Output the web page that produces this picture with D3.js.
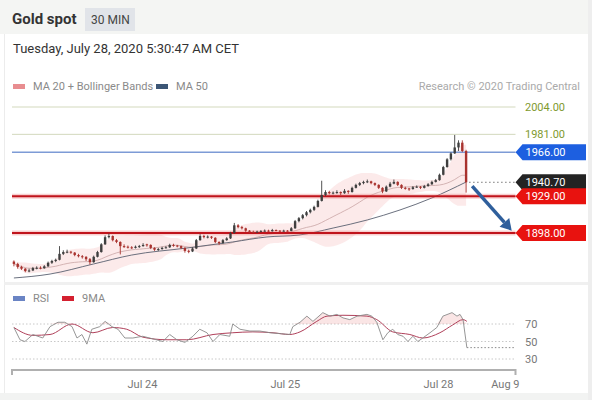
<!DOCTYPE html>
<html><head><meta charset="utf-8">
<script src="https://cdn.jsdelivr.net/npm/d3@7"></script>
<style>body{margin:0;background:#fff}svg{display:block;font-family:Roboto,"Liberation Sans",sans-serif}</style>
</head><body><svg id="c" width="592" height="400"></svg>
<script>
// ---------- DATA ----------
// 30-min candles [open, high, low, close]
const candles = [
[1874,1875,1870,1872],[1872,1873,1868,1869.5],[1869.5,1870.5,1867,1868],[1868,1868.5,1865,1866],[1866,1868,1865,1866.5],
[1866.5,1869.5,1866,1868.5],[1868.5,1870,1867.5,1868.8],[1868.8,1870,1867.5,1868.4],[1868.4,1871,1868,1870],[1870,1874,1869.5,1873],
[1873,1875.5,1872,1874.5],[1874.5,1876.5,1873.5,1875.5],[1875.5,1887,1875,1880.5],[1880.5,1883.5,1879.5,1882],[1882,1884,1881,1882.3],
[1882.3,1883,1880.5,1881.5],[1881.5,1882,1878.5,1879.5],[1879.5,1880.5,1877.5,1878.5],[1878.5,1879.5,1876.5,1878],[1878,1878.5,1874.5,1876],
[1876,1877,1871.5,1873.5],[1873.5,1879,1873,1878],[1878,1883,1877.5,1882],[1882,1889.5,1881.5,1888.5],[1888.5,1896,1888,1894.5],
[1894.5,1897.5,1893.5,1895.5],[1895.5,1896,1891,1892],[1892,1893,1889.5,1890.5],[1890.5,1891,1880,1887],[1887,1888.5,1885.5,1886.5],
[1886.5,1887.5,1885,1886],[1886,1887,1884.5,1885.5],[1885.5,1887.5,1885,1886.5],[1886.5,1888,1885.5,1887],[1887,1889.5,1886.5,1888],
[1888.5,1889,1886.5,1888],[1888,1888.5,1884.5,1885.5],[1885.5,1886,1883,1884],[1884,1885.5,1883,1884.5],[1884.5,1886.5,1884,1885.5],
[1885.5,1887,1885,1886],[1886,1889,1885.5,1888],[1888,1889,1886.5,1887.5],[1887.5,1888,1886,1887],[1887,1887.5,1884.5,1885.5],
[1885.5,1886,1881.5,1883],[1883,1884,1881,1882.5],[1882.5,1886,1882,1885],[1885,1893,1884.5,1892],[1892,1897,1891.5,1895.5],
[1895.5,1896.5,1893.5,1894.5],[1894.5,1896,1893.5,1895],[1895,1895.5,1893,1894],[1894,1894.5,1889.5,1890.5],[1890.5,1891,1888,1889.5],
[1889.5,1893,1889,1892],[1892,1894.5,1891.5,1893.5],[1893.5,1899,1893,1898],[1898,1906.5,1897.5,1904.5],[1904.5,1905.5,1902,1903],
[1903,1904,1901,1902],[1902,1902.5,1899,1900],[1900,1900.5,1898,1899],[1899,1900,1898,1898.8],[1898.8,1900,1898.2,1899.2],
[1899.2,1900.5,1898.8,1899.6],[1899.6,1901,1899.2,1900],[1900,1900.8,1899,1899.5],[1899.5,1901.5,1899.2,1900.5],[1900.5,1901,1899.5,1900],
[1900,1900.5,1899,1899.6],[1899.6,1900.8,1899.2,1900],[1900,1900.5,1899.2,1899.8],[1899.8,1903,1899.5,1902],[1902,1909,1901.5,1908],
[1908,1911.5,1907,1910.5],[1910.5,1914,1909.5,1913],[1913,1916.5,1912,1915.5],[1915.5,1918.5,1914.5,1917.5],[1917.5,1921,1916.5,1920],
[1920,1926,1919.5,1925],[1925,1942,1924.5,1930],[1930,1934,1929,1932.5],[1932.5,1933.5,1930.5,1931.5],[1931.5,1933,1930.5,1932],
[1932,1934,1931,1932.5],[1932.5,1933,1930,1931.5],[1931.5,1935,1931,1933.5],[1933.5,1934,1931,1932.5],[1932.5,1937,1932,1936],
[1936,1939.5,1935.5,1938.5],[1938.5,1941,1937.5,1940],[1940,1942,1939,1941],[1941,1943,1940,1941.5],[1941.5,1942,1939,1940],
[1940,1940.5,1937.5,1938.5],[1938.5,1939,1935,1936],[1936,1936.5,1931.5,1933],[1933,1938,1932.5,1937],[1937,1941,1936.5,1939.5],
[1939.5,1943,1939,1941],[1941,1941.5,1937.5,1938.5],[1938.5,1939,1935,1936],[1936,1937,1934.5,1935.5],[1935.5,1936,1933.5,1935],
[1935,1937.5,1934.5,1936.5],[1936.5,1938,1936,1937],[1937,1937.5,1935,1936],[1936,1938.5,1935.5,1937.5],[1937.5,1940,1937,1939],
[1939,1942,1938.5,1941],[1941,1943.5,1940.5,1942.5],[1942.5,1948,1942,1947],[1947,1954.5,1946.5,1953.5],[1953.5,1961,1953,1960],
[1960,1966,1959,1965],[1965,1980.5,1964.5,1970],[1970,1976,1967,1974],[1974,1976,1966,1967],[1967,1968,1932,1940.7]
];
// MA 50 read at [candle index, price]
const ma50 = [[0,1860.2],[9.5,1863.5],[21,1872],[31,1879.5],[45.5,1885.4],[57.6,1890.5],[66.6,1894.7],[75,1896.3],[84,1902.2],[93,1909],[101.6,1917.4],[110,1927.5],[119,1940.9]];
// RSI and its 9-period MA, read at [candle index, value]
const rsi = [[0,66],[1.6,52],[2.9,50],[5,58],[7.6,54],[9.5,67],[11.6,72],[13.4,72],[15.3,67],[16.6,54],[17.9,58],[19.2,47],[20.5,64],[22.6,67],[24,73],[25.8,67],[27.4,64],[29.2,54],[31.3,54],[33.9,56],[36.6,53],[39.2,50],[41,58],[42.9,52],[45,49],[47.1,56],[48.9,64],[50.8,60],[52.4,50],[54.2,58],[56.8,56],[57.6,70],[59.5,64],[62.1,62],[64.7,62],[67.4,60],[70,59],[72.6,58],[73.4,67],[75.3,72],[77.1,79],[78.7,73],[81.3,83],[83.2,79],[85,81],[86.6,77],[88.4,75],[90.3,79],[92.9,81],[94.2,79],[95.5,72],[97.1,52],[98.4,60],[99.7,64],[101,58],[102.4,56],[103.7,50],[105,56],[106.3,50],[107.6,54],[109.5,60],[111.3,66],[112.9,79],[115.3,83],[116.6,79],[117.4,81],[118.2,75],[119.2,43]];
const rsiMA = [[0,66],[5,57],[9.5,58],[15.3,70],[20.8,60],[26,66],[29.7,64],[33.9,55],[40.3,52],[45.5,52],[52.4,58],[57.6,60],[62.9,61],[68.2,60],[72.6,58],[75.3,61],[79.7,73],[82.4,79],[86.6,80],[92.9,79],[95.5,75],[99.7,61],[104.2,58],[107.6,54],[112.1,60],[115.5,69],[118.2,75],[119.2,73]];
const rsiLevels = [70, 50, 30];
// price levels
const levels = [
  {v:2004, label:"2004.00", kind:"target"},
  {v:1981, label:"1981.00", kind:"target"},
  {v:1966, label:"1966.00", kind:"resist"},
  {v:1940.70, label:"1940.70", kind:"last"},
  {v:1929, label:"1929.00", kind:"support"},
  {v:1898, label:"1898.00", kind:"support"}
];
const tickPos = [33.7, 71.3, 111.6, 129.2];
const tickLabels = ["Jul 24", "Jul 25", "Jul 28", "Aug 9"];
// forecast arrow: [index, price] from -> to
const arrowPts = [[120.6,1937.5],[131,1900]];

// ---------- DRAW ----------
const svg = d3.select("#c");
const x = d3.scaleLinear().domain([-0.5,132]).range([12,515.5]);
const y = d3.scaleLinear().domain([1858.5,2014.1]).range([280,95]);
const yr = d3.scaleLinear().domain([30,70]).range([359,324]);

// frame / header
svg.append("rect").attr("x",0).attr("y",0).attr("width",592).attr("height",400).attr("fill","#fff");
svg.append("rect").attr("x",0).attr("y",0).attr("width",592).attr("height",34).attr("fill","#f4f5f3");
svg.append("rect").attr("x",0).attr("y",393).attr("width",592).attr("height",7).attr("fill","#f2f3f2");
svg.append("rect").attr("x",588).attr("y",0).attr("width",4).attr("height",400).attr("fill","#eeeeee");
svg.append("line").attr("x1",4.5).attr("x2",4.5).attr("y1",34).attr("y2",393).attr("stroke","#ececec");
svg.append("rect").attr("x",4).attr("y",282).attr("width",584).attr("height",3).attr("fill","#f0f0f0");

svg.append("text").attr("x",12).attr("y",24).attr("font-size",15).attr("font-weight","bold").attr("fill","#333").text("Gold spot");
svg.append("rect").attr("x",85).attr("y",8).attr("width",50).attr("height",23).attr("fill","#e1e4e9");
svg.append("text").attr("x",91).attr("y",24).attr("font-size",12).attr("fill","#444").text("30 MIN");
svg.append("text").attr("x",13).attr("y",53).attr("font-size",13).attr("fill","#333").text("Tuesday, July 28, 2020 5:30:47 AM CET");

// legends
function legend(xp, yp, color, label){
  svg.append("rect").attr("x",xp).attr("y",yp-3).attr("width",12).attr("height",5).attr("fill",color);
  svg.append("text").attr("x",xp+20).attr("y",yp+3).attr("font-size",11).attr("fill","#8a8a8a").text(label);
}
legend(13,87,"#e88d90","MA 20 + Bollinger Bands");
legend(156,87,"#3c5676","MA 50");
svg.append("text").attr("x",580).attr("y",90).attr("text-anchor","end").attr("font-size",11).attr("fill","#aaa").text("Research \u00A9 2020 Trading Central");
legend(13,299,"#6a84c4","RSI");
legend(62,299,"#d42030","9MA");

// Bollinger bands & MA20 computed from closes
const closes = candles.map(d=>d[3]);
const bb = closes.map((c,i)=>{
  const w = closes.slice(Math.max(0,i-19), i+1);
  const m = d3.mean(w); const sd = w.length>1 ? d3.deviation(w)*Math.sqrt((w.length-1)/w.length) : 0;
  return {i, m, up:m+2*sd, lo:m-2*sd};
});
svg.append("path").datum(bb).attr("fill","rgba(240,140,140,0.18)")
  .attr("d", d3.area().x(d=>x(d.i)).y0(d=>y(d.lo)).y1(d=>y(d.up)).curve(d3.curveMonotoneX));
svg.append("path").datum(bb).attr("fill","none").attr("stroke","#c9a5a5").attr("stroke-width",0.8)
  .attr("d", d3.line().x(d=>x(d.i)).y(d=>y(d.m)).curve(d3.curveMonotoneX));
svg.append("path").datum(ma50).attr("fill","none").attr("stroke","#5a6170").attr("stroke-width",0.9)
  .attr("d", d3.line().x(d=>x(d[0])).y(d=>y(d[1])).curve(d3.curveMonotoneX));

// level lines
const x0 = x(-0.5), x1 = x(132);
levels.forEach(L=>{
  const yy = y(L.v);
  if (L.kind==="target"){
    svg.append("line").attr("x1",x0).attr("x2",x1).attr("y1",yy).attr("y2",yy).attr("stroke","#d3d9bd").attr("stroke-width",1);
    svg.append("text").attr("x",525).attr("y",yy+4).attr("font-size",11).attr("fill","#7f9a2f").text(L.label);
  } else {
    let col, bg;
    if (L.kind==="resist"){ col="#7d9bd6"; bg="#1d5fe0";
      svg.append("line").attr("x1",x0).attr("x2",x1).attr("y1",yy).attr("y2",yy).attr("stroke",col).attr("stroke-width",1.6);
    } else if (L.kind==="support"){ col="#c0141c"; bg="#e8120f";
      svg.append("line").attr("x1",x0).attr("x2",x1).attr("y1",yy).attr("y2",yy).attr("stroke","rgba(235,120,120,0.35)").attr("stroke-width",5);
      svg.append("line").attr("x1",x0).attr("x2",x1).attr("y1",yy).attr("y2",yy).attr("stroke",col).attr("stroke-width",2);
    } else { bg="#232323";
      svg.append("line").attr("x1",x(119)+3).attr("x2",x1).attr("y1",yy).attr("y2",yy).attr("stroke","#777").attr("stroke-width",1).attr("stroke-dasharray","1.5,2.5");
    }
    const bx = x1;
    svg.append("path").attr("fill",bg)
      .attr("d",`M${bx},${yy} L${bx+7},${yy-8} L${586},${yy-8} L${586},${yy+8} L${bx+7},${yy+8} Z`);
    svg.append("text").attr("x",bx+10).attr("y",yy+4).attr("font-size",11).attr("fill","#fff").text(L.label);
  }
});

// candles
const cg = svg.append("g");
candles.forEach((d,i)=>{
  const [o,h,l,c] = d; const up = c>=o;
  const col = up ? "#3f3f3f" : "#a8322e";
  const cx = x(i);
  cg.append("line").attr("x1",cx).attr("x2",cx).attr("y1",y(h)).attr("y2",y(l)).attr("stroke",col).attr("stroke-width",0.9);
  const top = y(Math.max(o,c)), bot = y(Math.min(o,c));
  cg.append("rect").attr("x",cx-1.2).attr("y",top).attr("width",2.4).attr("height",Math.max(1,bot-top)).attr("fill",col);
});

// forecast arrow
const ax0=x(arrowPts[0][0]), ay0=y(arrowPts[0][1]), ax1=x(arrowPts[1][0]), ay1=y(arrowPts[1][1]);
const ang = Math.atan2(ay1-ay0, ax1-ax0);
const hl=11, hw=6.5;
const bxp = ax1 - hl*Math.cos(ang), byp = ay1 - hl*Math.sin(ang);
svg.append("line").attr("x1",ax0).attr("y1",ay0).attr("x2",bxp).attr("y2",byp).attr("stroke","#2f5f9c").attr("stroke-width",3.5);
svg.append("path").attr("fill","#2f5f9c").attr("d",
  `M${ax1},${ay1} L${bxp+hw*Math.sin(ang)},${byp-hw*Math.cos(ang)} L${bxp-hw*Math.sin(ang)},${byp+hw*Math.cos(ang)} Z`);

// RSI panel
rsiLevels.forEach(v=>{
  svg.append("line").attr("x1",x0).attr("x2",x1).attr("y1",yr(v)).attr("y2",yr(v)).attr("stroke","#c8c8c8").attr("stroke-dasharray","1.5,2");
  svg.append("text").attr("x",525).attr("y",yr(v)+4).attr("font-size",11).attr("fill","#777").text(v);
});
svg.append("path").datum(rsi).attr("fill","rgba(240,170,170,0.3)")
  .attr("d", d3.area().x(d=>x(d[0])).y0(yr(70)).y1(d=>yr(Math.max(70,d[1]))));
svg.append("line").attr("x1",x(rsi[rsi.length-1][0])).attr("x2",x1).attr("y1",yr(rsi[rsi.length-1][1])).attr("y2",yr(rsi[rsi.length-1][1]))
  .attr("stroke","#888").attr("stroke-dasharray","1.5,2");
svg.append("path").datum(rsiMA).attr("fill","none").attr("stroke","#b0405a").attr("stroke-width",1)
  .attr("d", d3.line().x(d=>x(d[0])).y(d=>yr(d[1])).curve(d3.curveMonotoneX));
svg.append("path").datum(rsi).attr("fill","none").attr("stroke","#8a8a8a").attr("stroke-width",0.9)
  .attr("d", d3.line().x(d=>x(d[0])).y(d=>yr(d[1])));

// x axis
const axis = d3.axisBottom(x).tickValues(tickPos).tickFormat((d,i)=>tickLabels[i]).tickSize(0).tickPadding(10);
const ag = svg.append("g").attr("transform","translate(0,370)").call(axis);
ag.select(".domain").remove();
ag.selectAll("text").attr("font-size",11).attr("fill","#777").attr("font-family","Roboto, sans-serif");
svg.append("path").attr("fill","none").attr("stroke","#b0b0b0").attr("stroke-width",2)
  .attr("d",`M${x0},375 L${x0},370 L${x1},370 L${x1},375`);
</script></body></html>
